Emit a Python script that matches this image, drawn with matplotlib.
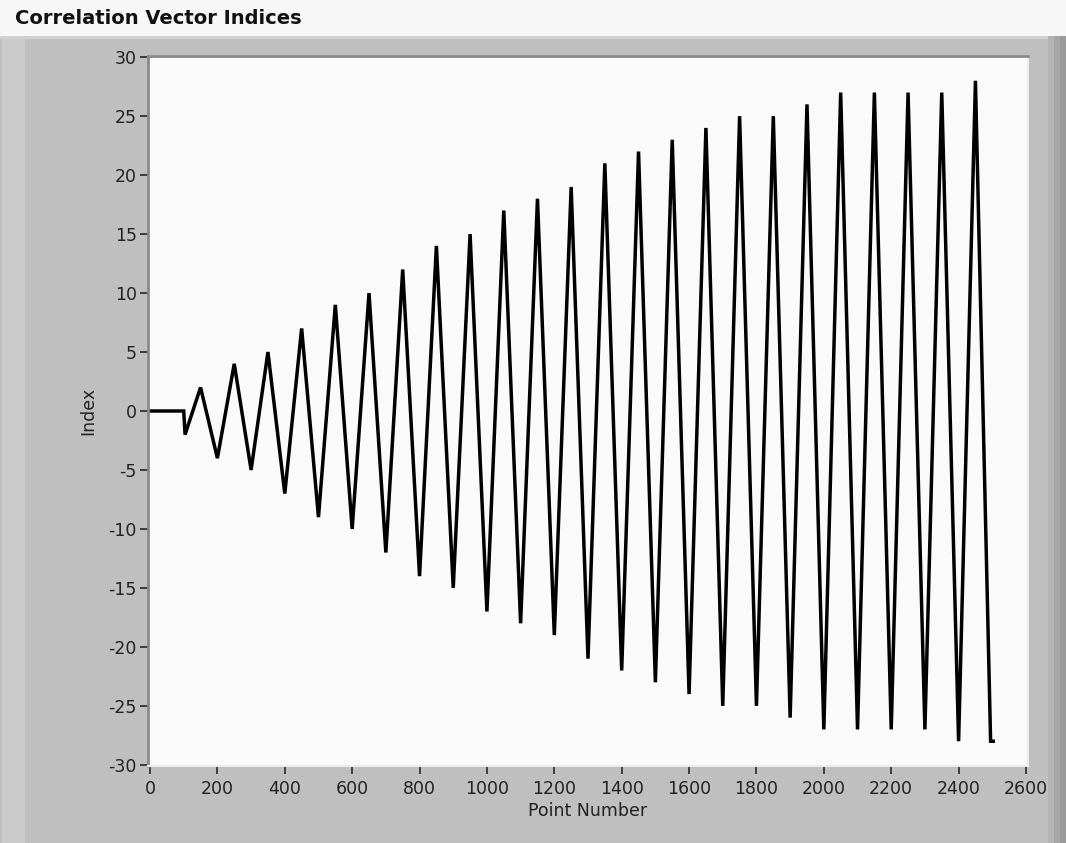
import matplotlib
matplotlib.use("Agg")
import matplotlib.pyplot as plt
from matplotlib.patches import Rectangle

plt.rcParams["axes.unicode_minus"] = False

# extrema of the trace (point number, index)
pt_x = [0, 100, 104, 150, 200, 250, 300, 350, 400, 450, 500, 550, 600, 650,
        700, 750, 800, 850, 900, 950, 1000, 1050, 1100, 1150, 1200, 1250,
        1300, 1350, 1400, 1450, 1500, 1550, 1600, 1650, 1700, 1750, 1800,
        1850, 1900, 1950, 2000, 2050, 2100, 2150, 2200, 2250, 2300, 2350,
        2400, 2450, 2495, 2503]
idx_y = [0, 0, -2, 2, -4, 4, -5, 5, -7, 7, -9, 9, -10, 10,
         -12, 12, -14, 14, -15, 15, -17, 17, -18, 18, -19, 19,
         -21, 21, -22, 22, -23, 23, -24, 24, -25, 25, -25,
         25, -26, 26, -27, 27, -27, 27, -27, 27, -27, 27,
         -28, 28, -28, -28]

x_ticks = list(range(0, 2601, 200))
y_ticks = list(range(-30, 31, 5))

W, H = 1066, 843
fig = plt.figure(figsize=(W / 100, H / 100), dpi=100)
fig.patch.set_facecolor("#F7F7F7")

def px_rect(x0, y0, x1, y1, color):
    # rectangle in pixel coords (y from top), kept behind the axes
    fig.patches.append(Rectangle((x0 / W, 1 - y1 / H), (x1 - x0) / W, (y1 - y0) / H,
                                 transform=fig.transFigure, facecolor=color,
                                 edgecolor="none", zorder=-5))

# grey LabVIEW-style panel
px_rect(0, 36, W, H, "#BFBFBF")
px_rect(0, 36, W, 39, "#D0D0D0")
px_rect(2, 39, 25, H, "#CBCBCB")
px_rect(1048, 36, 1054, H, "#B4B4B4")
px_rect(1054, 36, 1060, H, "#A6A6A6")
px_rect(1060, 36, W, H, "#9A9A9A")

fig.text(15 / W, 1 - 19 / H, "Correlation Vector Indices", fontsize=14,
         fontweight="bold", color="#111111", va="center", ha="left")

ax = fig.add_axes([148 / W, 1 - 766 / H, 880 / W, 710 / H])
ax.set_zorder(2)
ax.set_facecolor("#FAFAFA")
ax.plot(pt_x, idx_y, color="black", lw=2.5, solid_joinstyle="miter")

ax.set_xlim(-6, 2606)
ax.set_ylim(-30.1, 30.1)
ax.set_xticks(x_ticks)
ax.set_yticks(y_ticks)
ax.tick_params(axis="both", direction="out", length=6, width=1.3,
               color="#333333", labelcolor="#222222", labelsize=12.5)
ax.tick_params(axis="x", pad=4)
ax.tick_params(axis="y", pad=2)

for s in ["left", "top"]:
    ax.spines[s].set_color("#8A8A8A")
    ax.spines[s].set_linewidth(2)
for s in ["right", "bottom"]:
    ax.spines[s].set_color("#EDEDED")
    ax.spines[s].set_linewidth(1.5)

ax.set_xlabel("Point Number", fontsize=12.5, color="#222222", labelpad=3)
ax.set_ylabel("Index", fontsize=12.5, color="#222222", labelpad=8)

fig.savefig("out.png", dpi=100, facecolor=fig.get_facecolor())
